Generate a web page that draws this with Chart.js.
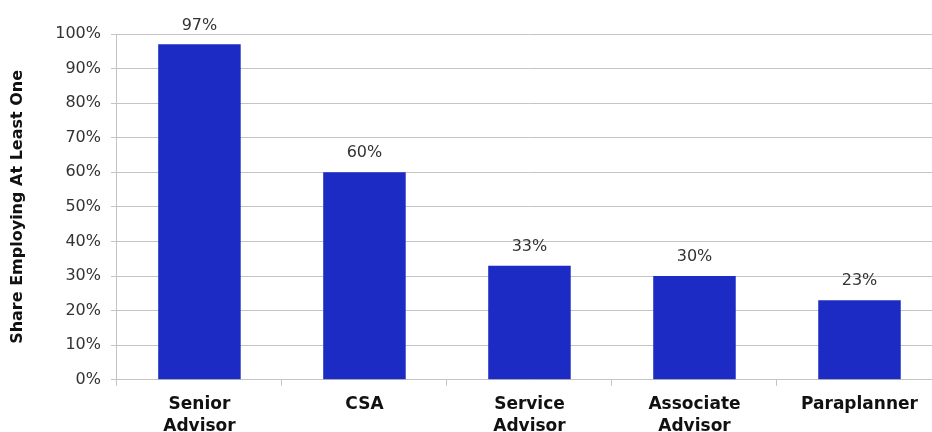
<!DOCTYPE html>
<html>
<head>
<meta charset="utf-8">
<script src="https://cdn.jsdelivr.net/npm/chart.js@4/dist/chart.umd.min.js"></script>
<style>
  html, body { margin: 0; padding: 0; background: #fff; overflow: hidden; }
  #wrap { width: 942px; height: 446px; }
</style>
</head>
<body>
<div id="wrap"><canvas id="roleChart"></canvas></div>
<script>
const categories = [["Senior", "Advisor"], "CSA", ["Service", "Advisor"], ["Associate", "Advisor"], "Paraplanner"];
const shareValues = [97, 60, 33, 30, 23];
const yTicks = [0, 10, 20, 30, 40, 50, 60, 70, 80, 90, 100];

const FONT = "'DejaVu Sans', sans-serif";

// draws the % value above each bar
const valueLabels = {
    id: "valueLabels",
    afterDatasetsDraw(chart) {
        const { ctx } = chart;
        const meta = chart.getDatasetMeta(0);
        ctx.save();
        ctx.font = "16px " + FONT;
        ctx.fillStyle = "#333333";
        ctx.textAlign = "center";
        ctx.textBaseline = "bottom";
        meta.data.forEach((bar, i) => {
            ctx.fillText(shareValues[i] + "%", bar.x, bar.y - 11);
        });
        ctx.restore();
    }
};

new Chart(document.getElementById("roleChart").getContext("2d"), {
    type: "bar",
    data: {
        labels: categories,
        datasets: [{
            data: shareValues,
            backgroundColor: "#1b2bc3",
            borderWidth: 0,
            barPercentage: 1,
            categoryPercentage: 0.5
        }]
    },
    options: {
        responsive: true,
        maintainAspectRatio: false,
        animation: false,
        layout: { padding: { top: 34, left: 4, right: 0, bottom: 0 } },
        plugins: {
            legend: { display: false },
            tooltip: { enabled: false }
        },
        scales: {
            x: {
                grid: { drawOnChartArea: false, drawTicks: true, tickLength: 6, color: "#c4c4c4", offset: true },
                border: { color: "#c4c4c4" },
                ticks: {
                    color: "#111111",
                    font: { family: FONT, size: 17, weight: "bold", lineHeight: 1.3 },
                    padding: 8,
                    maxRotation: 0,
                    autoSkip: false
                }
            },
            y: {
                min: 0,
                max: 100,
                afterBuildTicks: axis => { axis.ticks = yTicks.map(v => ({ value: v })); },
                grid: { color: "#c4c4c4", tickLength: 6 },
                border: { color: "#c4c4c4" },
                ticks: {
                    color: "#333333",
                    font: { family: FONT, size: 16 },
                    padding: 10,
                    callback: v => v + "%"
                },
                title: {
                    display: true,
                    text: "Share Employing At Least One",
                    color: "#111111",
                    font: { family: FONT, size: 16, weight: "bold" },
                    padding: { bottom: 18 }
                }
            }
        }
    },
    plugins: [valueLabels]
});
</script>
</body>
</html>
